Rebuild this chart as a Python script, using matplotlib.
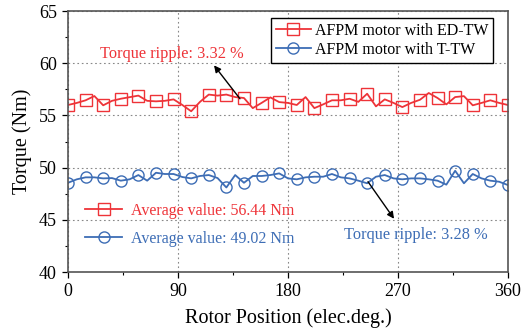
import numpy as np
import matplotlib
matplotlib.use("Agg")
import matplotlib.pyplot as plt
from matplotlib.ticker import MultipleLocator

# rotor position, one sample every 7.2 elec. deg (markers on every 2nd sample)
position = np.linspace(0, 360, 51)

torque_ed_tw = [
    56.0, 56.2, 56.45, 56.86, 55.97, 56.4, 56.6, 56.75, 56.9, 56.4,
    56.35, 56.4, 56.54, 56.0, 55.4, 56.3, 57.0, 56.9, 57.0, 56.76,
    56.67, 55.7, 56.2, 56.73, 56.28, 56.2, 56.0, 56.76, 55.7, 56.06,
    56.45, 56.45, 56.6, 56.3, 57.08, 55.87, 56.54, 56.2, 55.8, 56.2,
    56.5, 57.15, 56.67, 56.06, 56.76, 56.85, 55.97, 56.2, 56.45, 56.2,
    56.0,
]
torque_t_tw = [
    48.55, 48.88, 49.07, 49.07, 48.97, 49.0, 48.75, 48.88, 49.29, 48.75,
    49.51, 49.39, 49.39, 49.1, 48.97, 49.2, 49.29, 49.0, 48.1, 49.29,
    48.55, 49.2, 49.2, 49.29, 49.45, 48.97, 48.88, 49.07, 49.13, 49.13,
    49.39, 49.07, 48.97, 48.75, 48.5, 49.13, 49.29, 48.97, 48.88, 48.97,
    48.97, 48.88, 48.75, 48.37, 49.7, 48.5, 49.39, 48.97, 48.75, 48.65,
    48.33,
]

labels = ["AFPM motor with ED-TW", "AFPM motor with T-TW"]
avg_labels = ["Average value: 56.44 Nm", "Average value: 49.02 Nm"]
ripple_texts = ["Torque ripple: 3.32 %", "Torque ripple: 3.28 %"]

RED = "#EE3338"
BLUE = "#3D6DB5"

plt.rcParams["font.family"] = ["Liberation Serif", "DejaVu Serif"]
plt.rcParams["font.size"] = 13

fig = plt.figure(figsize=(5.25, 3.35), dpi=100)
ax = fig.add_axes([0.1295, 0.188, 0.838, 0.779])

l1, = ax.plot(position, torque_ed_tw, color=RED, lw=1.3, marker="s",
              markevery=2, ms=8, mfc="none", mec=RED, mew=1.0)
l2, = ax.plot(position, torque_t_tw, color=BLUE, lw=1.3, marker="o",
              markevery=2, ms=8, mfc="none", mec=BLUE, mew=1.0)

ax.set_xlim(0, 360)
ax.set_ylim(40, 65)
ax.xaxis.set_major_locator(MultipleLocator(90))
ax.xaxis.set_minor_locator(MultipleLocator(45))
ax.yaxis.set_major_locator(MultipleLocator(5))
ax.yaxis.set_minor_locator(MultipleLocator(2.5))
ax.tick_params(which="major", direction="out", length=4, width=0.9, pad=4,
               labelsize=13)
ax.tick_params(which="minor", direction="out", length=2.5, width=0.8)
ax.grid(True, which="major", ls=(0, (1.5, 2.5)), color="#888888", lw=0.8)
for s in ax.spines.values():
    s.set_color("#555555")
    s.set_linewidth(1.2)

ax.set_xlabel("Rotor Position (elec.deg.)", fontsize=14.5, labelpad=6)
ax.set_ylabel("Torque (Nm)", fontsize=14.5, labelpad=5)

leg1 = ax.legend([l1, l2], labels, loc="upper right",
                 bbox_to_anchor=(0.966, 0.973), borderaxespad=0,
                 fancybox=False, edgecolor="black", framealpha=1,
                 handlelength=2.2, handletextpad=0.25, labelspacing=0.2,
                 borderpad=0.3, fontsize=11.5)
leg1.get_frame().set_linewidth(1.0)
ax.add_artist(leg1)

ax.legend([l1, l2], avg_labels, loc="upper left",
          bbox_to_anchor=(0.025, 0.29), borderaxespad=0, frameon=False,
          handlelength=2.3, handletextpad=0.55, labelspacing=0.75,
          labelcolor=[RED, BLUE], fontsize=11.5)

ax.text(85, 60.85, ripple_texts[0], color=RED, ha="center", va="center",
        fontsize=11.8)
ax.annotate("", xy=(119.5, 59.8), xytext=(140.7, 56.6),
            arrowprops=dict(arrowstyle="-|>", color="black", lw=1.0,
                            mutation_scale=10, shrinkA=0, shrinkB=0))
ax.text(284.8, 43.5, ripple_texts[1], color=BLUE, ha="center", va="center",
        fontsize=11.8)
ax.annotate("", xy=(266.8, 45.1), xytext=(245.5, 48.65),
            arrowprops=dict(arrowstyle="-|>", color="black", lw=1.0,
                            mutation_scale=10, shrinkA=0, shrinkB=0))

fig.savefig("out.png", dpi=100)
